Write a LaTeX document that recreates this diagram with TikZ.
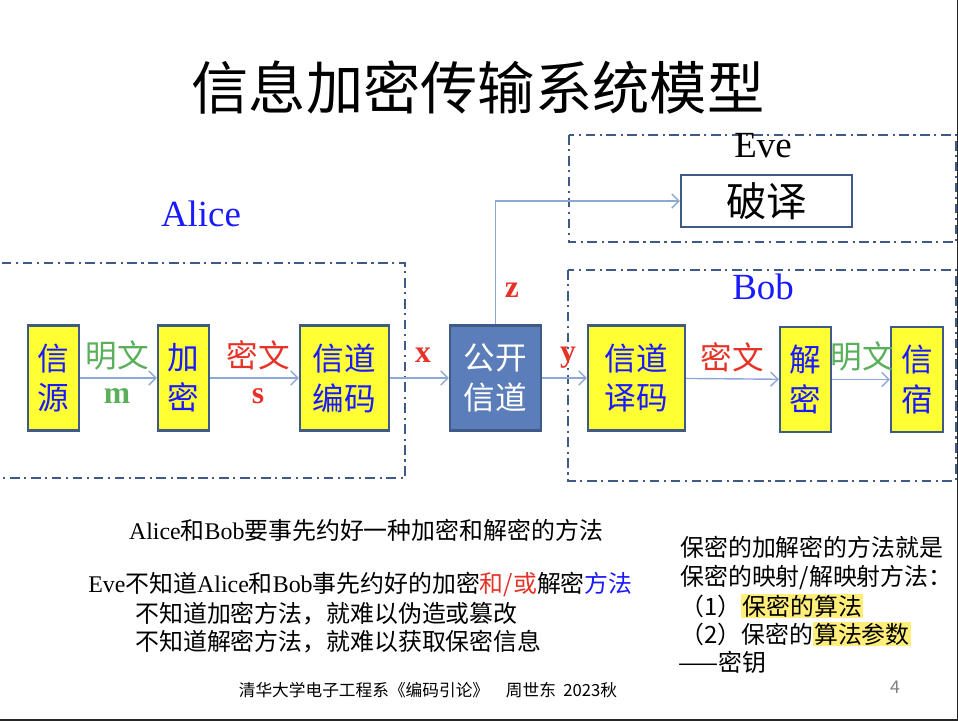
\documentclass[tikz,border=0pt]{standalone}
\usepackage{fontspec}
\setmainfont{Liberation Serif}
\newfontfamily\cjk{Noto Sans CJK SC}
\usetikzlibrary{arrows.meta}
\definecolor{frameblue}{HTML}{3F5A86}
\definecolor{boxyellow}{HTML}{FFFF33}
\definecolor{chanblue}{HTML}{5B7DB9}
\definecolor{flowblue}{HTML}{8EA8D6}
\definecolor{plaingreen}{HTML}{5AAF5A}
\definecolor{cipherred}{HTML}{E53327}
\definecolor{nameblue}{HTML}{1A1AFF}
\definecolor{hlyellow}{HTML}{FFEF7A}
\newcommand{\hlmark}[1]{{\setlength{\fboxsep}{0.6pt}\colorbox{hlyellow}{#1}}}
\tikzset{
  party/.style={draw=frameblue, line width=1.4pt,
    dash pattern=on 5.5pt off 2.6pt on 1.2pt off 2.6pt},
  stage/.style={draw=frameblue, line width=1.4pt, fill=boxyellow, text=nameblue,
    align=center, inner sep=0pt, minimum height=2.1cm, minimum width=1.02cm,
    font=\fontsize{18}{22.7}\selectfont\cjk},
  flow/.style={draw=flowblue, line width=0.8pt, -{Straight Barb[length=4pt,width=8pt]}},
  lbl/.style={inner sep=0pt, font=\fontsize{18}{20}\selectfont\cjk},
  sym/.style={inner sep=0pt, text=cipherred, font=\fontsize{18}{20}\selectfont\bfseries},
  who/.style={inner sep=0pt, font=\fontsize{21}{24}\selectfont},
  note/.style={inner sep=0pt, anchor=west, font=\fontsize{13.6}{16}\selectfont}
}
\begin{document}
\begin{tikzpicture}[x=0.02cm, y=-0.02cm]
    \useasboundingbox (0,0) rectangle (958,721);
    %% slide frame
    \draw[line width=0.9pt, black!85] (0,720) -- (957.3,720) -- (957.3,0);
    \node[inner sep=0pt, font=\fontsize{32.6}{36}\selectfont\cjk] (title) at (478,88) {信息加密传输系统模型};

    %% parties
    \draw[party] (-5,263) rectangle (405,478);
    \draw[party] (569,135) rectangle (956,242);
    \draw[party] (568,270) rectangle (956,481);
    \node[who, text=nameblue] (alice) at (201,214) {Alice};
    \node[who] (eve) at (763,146) {Eve};
    \node[who, text=nameblue] (bob) at (763,287) {Bob};

    %% stages
    \node[stage] (src) at (53.5,378) {信\\源};
    \node[stage] (enc) at (183.5,378) {加\\密};
    \node[stage, minimum width=1.78cm] (chenc) at (344.5,378) {信道\\编码};
    \node[stage, minimum width=1.82cm, fill=chanblue, text=white] (pub) at (495.5,378) {公开\\信道};
    \node[stage, minimum width=1.94cm] (chdec) at (636.5,378) {信道\\译码};
    \node[stage] (dec) at (805.5,379.5) {解\\密};
    \node[stage, minimum width=1.04cm] (sink) at (917,379.5) {信\\宿};
    \node[draw=frameblue, line width=1.4pt, fill=white, inner sep=0pt,
          minimum width=3.42cm, minimum height=1.04cm,
          font=\fontsize{23}{26}\selectfont\cjk] (crack) at (766.5,201) {破译};

    %% connectors
    \foreach \a/\b in {src/enc, enc/chenc, chenc/pub, pub/chdec, chdec/dec, dec/sink}
        \draw[flow] (\a) -- (\b);
    \draw[flow] (pub.north) |- (crack.west);

    %% signal labels
    \node[lbl, text=plaingreen] (m1) at (117,355) {明文};
    \node[sym, text=plaingreen] (m) at (117,396) {m};
    \node[lbl, text=cipherred] (c1) at (258,355) {密文};
    \node[sym] (s) at (258,396) {s};
    \node[sym] (x) at (423,355) {x};
    \node[sym] (y) at (568,358) {y};
    \node[sym] (z) at (512,290) {z};
    \node[lbl, text=cipherred] (c2) at (732,357) {密文};
    \node[lbl, text=plaingreen] (m2) at (862,356) {明文};

    %% notes
    \node[note, anchor=center] (n1) at (366,530) {Alice{\cjk 和}Bob{\cjk 要事先约好一种加密和解密的方法}};
    \node[note] (n2) at (88,584) {Eve{\cjk 不知道}Alice{\cjk 和}Bob{\cjk 事先约好的加密\textcolor{cipherred}{和/或}解密\textcolor{nameblue}{方法}}};
    \node[note, font=\fontsize{13.6}{16}\selectfont\cjk] (n3) at (135,614) {不知道加密方法，就难以伪造或篡改};
    \node[note, font=\fontsize{13.6}{16}\selectfont\cjk] (n4) at (135,642) {不知道解密方法，就难以获取保密信息};

    \node[note, font=\fontsize{13.6}{16}\selectfont\cjk] (k1) at (680,547) {保密的加解密的方法就是};
    \node[note, font=\fontsize{13.6}{16}\selectfont\cjk] (k2) at (680,577) {保密的映射/解映射方法：};
    \node[note, font=\fontsize{13.6}{16}\selectfont\cjk] (k3) at (680,606) {（1）\hlmark{保密的算法}};
    \node[note, font=\fontsize{13.6}{16}\selectfont\cjk] (k4) at (680,634) {（2）保密的\hlmark{算法参数}};
    \node[note, font=\fontsize{13.6}{16}\selectfont\cjk] (k5) at (678,662) {——密钥};

    %% footer
    \node[inner sep=0pt, font=\fontsize{9.5}{11}\selectfont\cjk] (foot) at (428,690) {清华大学电子工程系《编码引论》\quad 周世东~~2023秋};
    \node[inner sep=0pt, text=black!50, font=\fontsize{10}{11}\selectfont\cjk] (page) at (895,687) {4};
\end{tikzpicture}
\end{document}
